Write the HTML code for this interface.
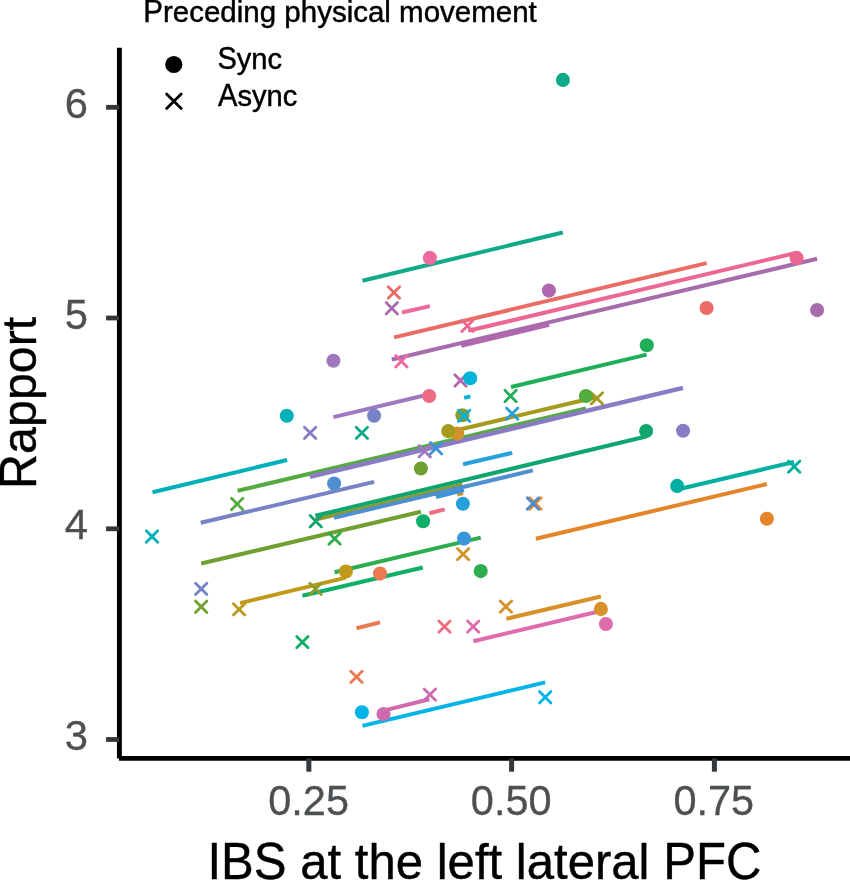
<!DOCTYPE html>
<html><head><meta charset="utf-8"><title>chart</title>
<style>
html,body{margin:0;padding:0;background:#fff;}
svg{display:block;will-change:transform;}
text{font-family:"Liberation Sans",sans-serif;}
</style></head><body>
<svg width="850" height="880" viewBox="0 0 850 880">
<rect x="0" y="0" width="850" height="880" fill="#fff"/>

<g fill="none" stroke-width="4.00" stroke-linecap="butt">
<line x1="394.1" y1="337.4" x2="706.6" y2="263.1" stroke="#EB6C65"/>
<line x1="356.5" y1="628.2" x2="380.0" y2="622.4" stroke="#EB7A50"/>
<line x1="535.8" y1="538.8" x2="766.9" y2="484.0" stroke="#E5852A"/>
<line x1="506.4" y1="618.8" x2="600.9" y2="596.5" stroke="#D7902A"/>
<line x1="457.2" y1="494.5" x2="463.1" y2="493.1" stroke="#D2922A"/>
<line x1="240.0" y1="603.1" x2="345.9" y2="577.6" stroke="#BF9A1A"/>
<line x1="448.2" y1="432.2" x2="596.9" y2="397.0" stroke="#A39A1E"/>
<line x1="315.5" y1="519.5" x2="462.4" y2="484.7" stroke="#8E9A2A"/>
<line x1="201.2" y1="563.5" x2="420.9" y2="511.8" stroke="#6FA030"/>
<line x1="237.6" y1="490.8" x2="585.9" y2="408.4" stroke="#55AA40"/>
<line x1="334.6" y1="572.2" x2="480.7" y2="537.6" stroke="#2CAE4E"/>
<line x1="511.0" y1="387.0" x2="646.6" y2="354.6" stroke="#1FAF58"/>
<line x1="302.4" y1="595.8" x2="422.8" y2="567.5" stroke="#0FAF6A"/>
<line x1="315.3" y1="515.8" x2="646.1" y2="436.5" stroke="#0FA56E"/>
<line x1="362.4" y1="280.7" x2="562.8" y2="232.5" stroke="#10AA88"/>
<line x1="677.5" y1="489.5" x2="794.0" y2="462.0" stroke="#00AFA0"/>
<line x1="152.5" y1="492.2" x2="287.1" y2="460.0" stroke="#00B0B8"/>
<line x1="464.1" y1="397.9" x2="470.4" y2="396.4" stroke="#00B4D8"/>
<line x1="362.4" y1="725.9" x2="545.2" y2="682.4" stroke="#00B4E8"/>
<line x1="463.1" y1="464.2" x2="512.2" y2="452.9" stroke="#28A0DC"/>
<line x1="436.0" y1="497.0" x2="464.0" y2="490.1" stroke="#3A96D8"/>
<line x1="334.1" y1="517.7" x2="532.9" y2="470.4" stroke="#4F8FD0"/>
<line x1="200.7" y1="522.8" x2="374.1" y2="481.9" stroke="#7683C6"/>
<line x1="309.9" y1="476.8" x2="683.0" y2="387.9" stroke="#8A7CC4" stroke-width="4.5"/>
<line x1="333.4" y1="417.1" x2="424.0" y2="395.5" stroke="#9F78BF"/>
<line x1="391.8" y1="359.5" x2="817.1" y2="258.8" stroke="#A76CAC"/>
<line x1="461.2" y1="345.9" x2="549.2" y2="324.7" stroke="#B167B0"/>
<line x1="383.5" y1="710.6" x2="429.4" y2="699.3" stroke="#CE6AAE"/>
<line x1="473.4" y1="641.2" x2="605.9" y2="609.8" stroke="#E06AAE"/>
<line x1="401.9" y1="312.5" x2="429.9" y2="306.1" stroke="#EC6A9E"/>
<line x1="468.2" y1="330.8" x2="796.6" y2="252.8" stroke="#EC6892"/>
<line x1="429.4" y1="513.2" x2="444.7" y2="509.4" stroke="#EE6C82"/>
</g>
<g>
<path d="M454.8 374.8L466.2 386.2M454.8 386.2L466.2 374.8" stroke="#B167B0" stroke-width="2.80" stroke-linecap="round" fill="none"/>
<circle cx="706.6" cy="308.0" r="7.05" fill="#EB6C65"/>
<path d="M388.2 286.8L399.6 298.2M388.2 298.2L399.6 286.8" stroke="#EB6C65" stroke-width="2.80" stroke-linecap="round" fill="none"/>
<circle cx="380.0" cy="573.6" r="7.05" fill="#EB7A50"/>
<path d="M350.8 671.2L362.2 682.6M350.8 682.6L362.2 671.2" stroke="#EB7A50" stroke-width="2.80" stroke-linecap="round" fill="none"/>
<circle cx="766.9" cy="518.8" r="7.05" fill="#E5852A"/>
<path d="M529.6 497.8L541.0 509.2M529.6 509.2L541.0 497.8" stroke="#E5852A" stroke-width="2.80" stroke-linecap="round" fill="none"/>
<circle cx="600.9" cy="608.9" r="7.05" fill="#D7902A"/>
<path d="M500.2 600.9L511.6 612.3M500.2 612.3L511.6 600.9" stroke="#D7902A" stroke-width="2.80" stroke-linecap="round" fill="none"/>
<circle cx="457.2" cy="433.6" r="7.05" fill="#D2922A"/>
<path d="M457.4 548.4L468.8 559.8M457.4 559.8L468.8 548.4" stroke="#D2922A" stroke-width="2.80" stroke-linecap="round" fill="none"/>
<circle cx="345.9" cy="571.5" r="7.05" fill="#BF9A1A"/>
<path d="M233.4 603.7L244.8 615.1M233.4 615.1L244.8 603.7" stroke="#BF9A1A" stroke-width="2.80" stroke-linecap="round" fill="none"/>
<circle cx="448.2" cy="431.1" r="7.05" fill="#A39A1E"/>
<path d="M591.2 392.7L602.6 404.1M591.2 404.1L602.6 392.7" stroke="#A39A1E" stroke-width="2.80" stroke-linecap="round" fill="none"/>
<circle cx="462.4" cy="415.3" r="7.05" fill="#8E9A2A"/>
<path d="M309.8 583.2L321.2 594.6M309.8 594.6L321.2 583.2" stroke="#8E9A2A" stroke-width="2.80" stroke-linecap="round" fill="none"/>
<circle cx="420.9" cy="468.5" r="7.05" fill="#6FA030"/>
<path d="M195.5 601.1L206.9 612.5M195.5 612.5L206.9 601.1" stroke="#6FA030" stroke-width="2.80" stroke-linecap="round" fill="none"/>
<circle cx="585.9" cy="396.0" r="7.05" fill="#55AA40"/>
<path d="M231.5 498.3L242.9 509.7M231.5 509.7L242.9 498.3" stroke="#55AA40" stroke-width="2.80" stroke-linecap="round" fill="none"/>
<circle cx="480.7" cy="571.1" r="7.05" fill="#2CAE4E"/>
<path d="M328.9 532.9L340.3 544.3M328.9 544.3L340.3 532.9" stroke="#2CAE4E" stroke-width="2.80" stroke-linecap="round" fill="none"/>
<circle cx="646.8" cy="345.2" r="7.05" fill="#1FAF58"/>
<path d="M504.9 390.3L516.3 401.7M504.9 401.7L516.3 390.3" stroke="#1FAF58" stroke-width="2.80" stroke-linecap="round" fill="none"/>
<circle cx="423.1" cy="521.2" r="7.05" fill="#0FAF6A"/>
<path d="M296.7 636.4L308.1 647.8M296.7 647.8L308.1 636.4" stroke="#0FAF6A" stroke-width="2.80" stroke-linecap="round" fill="none"/>
<circle cx="646.1" cy="431.1" r="7.05" fill="#0FA56E"/>
<path d="M310.1 515.5L321.5 526.9M310.1 526.9L321.5 515.5" stroke="#0FA56E" stroke-width="2.80" stroke-linecap="round" fill="none"/>
<circle cx="562.9" cy="79.9" r="7.05" fill="#10AA88"/>
<path d="M356.2 427.2L367.6 438.6M356.2 438.6L367.6 427.2" stroke="#10AA88" stroke-width="2.80" stroke-linecap="round" fill="none"/>
<circle cx="677.2" cy="485.9" r="7.05" fill="#00AFA0"/>
<path d="M788.5 460.9L799.9 472.3M788.5 472.3L799.9 460.9" stroke="#00AFA0" stroke-width="2.80" stroke-linecap="round" fill="none"/>
<circle cx="286.8" cy="415.8" r="7.05" fill="#00B0B8"/>
<path d="M146.3 530.8L157.7 542.2M146.3 542.2L157.7 530.8" stroke="#00B0B8" stroke-width="2.80" stroke-linecap="round" fill="none"/>
<circle cx="470.2" cy="378.2" r="7.05" fill="#00B4D8"/>
<path d="M458.4 410.2L469.8 421.6M458.4 421.6L469.8 410.2" stroke="#00B4D8" stroke-width="2.80" stroke-linecap="round" fill="none"/>
<circle cx="361.9" cy="712.2" r="7.05" fill="#00B4E8"/>
<path d="M539.5 691.5L550.9 702.9M539.5 702.9L550.9 691.5" stroke="#00B4E8" stroke-width="2.80" stroke-linecap="round" fill="none"/>
<circle cx="462.9" cy="503.8" r="7.05" fill="#28A0DC"/>
<path d="M506.5 407.9L517.9 419.3M506.5 419.3L517.9 407.9" stroke="#28A0DC" stroke-width="2.80" stroke-linecap="round" fill="none"/>
<circle cx="464.0" cy="538.6" r="7.05" fill="#3A96D8"/>
<path d="M430.3 442.5L441.7 453.9M430.3 453.9L441.7 442.5" stroke="#3A96D8" stroke-width="2.80" stroke-linecap="round" fill="none"/>
<circle cx="334.1" cy="483.5" r="7.05" fill="#4F8FD0"/>
<path d="M527.2 497.8L538.6 509.2M527.2 509.2L538.6 497.8" stroke="#4F8FD0" stroke-width="2.80" stroke-linecap="round" fill="none"/>
<circle cx="374.1" cy="415.8" r="7.05" fill="#7683C6"/>
<path d="M195.5 583.2L206.9 594.6M195.5 594.6L206.9 583.2" stroke="#7683C6" stroke-width="2.80" stroke-linecap="round" fill="none"/>
<circle cx="683.1" cy="430.8" r="7.05" fill="#8A7CC4"/>
<path d="M304.4 427.2L315.8 438.6M304.4 438.6L315.8 427.2" stroke="#8A7CC4" stroke-width="2.80" stroke-linecap="round" fill="none"/>
<circle cx="333.4" cy="360.7" r="7.05" fill="#9F78BF"/>
<path d="M419.0 445.5L430.4 456.9M419.0 456.9L430.4 445.5" stroke="#9F78BF" stroke-width="2.80" stroke-linecap="round" fill="none"/>
<circle cx="817.1" cy="310.1" r="7.05" fill="#A76CAC"/>
<path d="M386.1 302.5L397.5 313.9M386.1 313.9L397.5 302.5" stroke="#A76CAC" stroke-width="2.80" stroke-linecap="round" fill="none"/>
<circle cx="548.9" cy="290.6" r="7.05" fill="#B167B0"/>
<circle cx="383.5" cy="714.1" r="7.05" fill="#CE6AAE"/>
<path d="M424.2 688.9L435.6 700.3M424.2 700.3L435.6 688.9" stroke="#CE6AAE" stroke-width="2.80" stroke-linecap="round" fill="none"/>
<circle cx="605.9" cy="624.0" r="7.05" fill="#E06AAE"/>
<path d="M467.5 620.9L478.9 632.3M467.5 632.3L478.9 620.9" stroke="#E06AAE" stroke-width="2.80" stroke-linecap="round" fill="none"/>
<circle cx="429.9" cy="257.9" r="7.05" fill="#EC6A9E"/>
<path d="M395.7 355.5L407.1 366.9M395.7 366.9L407.1 355.5" stroke="#EC6A9E" stroke-width="2.80" stroke-linecap="round" fill="none"/>
<circle cx="796.6" cy="257.9" r="7.05" fill="#EC6892"/>
<path d="M461.8 320.2L473.2 331.6M461.8 331.6L473.2 320.2" stroke="#EC6892" stroke-width="2.80" stroke-linecap="round" fill="none"/>
<circle cx="429.2" cy="396.0" r="7.05" fill="#EE6C82"/>
<path d="M438.8 620.9L450.2 632.3M438.8 632.3L450.2 620.9" stroke="#EE6C82" stroke-width="2.80" stroke-linecap="round" fill="none"/>
</g>
<g stroke="#000" fill="none" stroke-linecap="butt">
<line x1="119.4" y1="47.8" x2="119.4" y2="758.4" stroke-width="4.9"/>
<line x1="119.0" y1="758.4" x2="850" y2="758.4" stroke-width="4.8"/>
</g>
<g stroke="#34383A" fill="none">
<line x1="106.1" y1="107.3" x2="119.0" y2="107.3" stroke-width="4.8"/>
<line x1="106.1" y1="318.0" x2="119.0" y2="318.0" stroke-width="4.8"/>
<line x1="106.1" y1="528.8" x2="119.0" y2="528.8" stroke-width="4.8"/>
<line x1="106.1" y1="739.5" x2="119.0" y2="739.5" stroke-width="4.8"/>
<line x1="308.85" y1="758.4" x2="308.85" y2="771.7" stroke-width="5"/>
<line x1="511.6" y1="758.4" x2="511.6" y2="771.7" stroke-width="5"/>
<line x1="714.4" y1="758.4" x2="714.4" y2="771.7" stroke-width="5"/>
</g>
<g fill="#4C5052" stroke="#4C5052" stroke-width="0.3" font-size="41.8px" text-anchor="end">
<text transform="translate(88.0,118.3) scale(1,1.025)">6</text>
<text transform="translate(88.0,328.9) scale(1,1.025)">5</text>
<text transform="translate(88.0,539.4) scale(1,1.025)">4</text>
<text transform="translate(88.0,750.0) scale(1,1.025)">3</text>
</g>
<g fill="#4C5052" stroke="#4C5052" stroke-width="0.3" font-size="41.5px" text-anchor="middle">
<text transform="translate(308.6,814.9) scale(1,1.025)">0.25</text>
<text transform="translate(511.2,814.9) scale(1,1.025)">0.50</text>
<text transform="translate(713.8,814.9) scale(1,1.025)">0.75</text>
</g>
<text transform="translate(484.40,878.90)" text-anchor="middle" fill="#000" stroke="#000" stroke-width="0.40" font-size="49.1px"><tspan font-size="52.05px" textLength="79.12" lengthAdjust="spacingAndGlyphs">IBS</tspan> at the left lateral <tspan font-size="52.05px" textLength="98.20" lengthAdjust="spacingAndGlyphs">PFC</tspan></text>
<text transform="translate(35.90,402.80) rotate(-90)" text-anchor="middle" fill="#000" stroke="#000" stroke-width="0.40" font-size="48.4px"><tspan font-size="51.30px" textLength="34.94" lengthAdjust="spacingAndGlyphs">R</tspan>apport</text>
<text transform="translate(143.30,21.50)" text-anchor="start" fill="#000" stroke="#000" stroke-width="0.45" font-size="29.5px"><tspan font-size="31.27px" textLength="19.67" lengthAdjust="spacingAndGlyphs">P</tspan>receding physical movement</text>
<text transform="translate(217.40,69.40)" text-anchor="start" fill="#000" stroke="#000" stroke-width="0.45" font-size="29.1px"><tspan font-size="30.85px" textLength="19.39" lengthAdjust="spacingAndGlyphs">S</tspan>ync</text>
<text transform="translate(218.00,106.10)" text-anchor="start" fill="#000" stroke="#000" stroke-width="0.45" font-size="29.1px"><tspan font-size="30.85px" textLength="19.39" lengthAdjust="spacingAndGlyphs">A</tspan>sync</text>
<circle cx="173.8" cy="64.5" r="8.6" fill="#000"/>
<path d="M166.6 93.9L181.2 108.5M166.6 108.5L181.2 93.9" stroke="#000" stroke-width="2.8" stroke-linecap="round" fill="none"/>
</svg>
</body></html>
